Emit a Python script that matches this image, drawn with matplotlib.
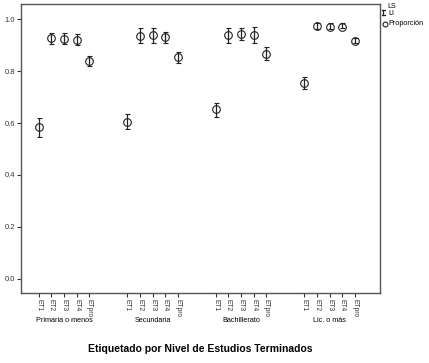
import matplotlib
matplotlib.use('Agg')
import matplotlib.pyplot as plt
from matplotlib.lines import Line2D

plt.rcParams['font.family'] = ['Liberation Sans', 'DejaVu Sans']

GROUPS = ["Primaria o menos", "Secundaria", "Bachillerato", "Lic. o más"]
ITEMS = ["ET1", "ET2", "ET3", "ET4", "ETpro"]

# proportion, upper limit (LS), lower limit (LI) per group, in ITEMS order
prop = [
    [0.583, 0.926, 0.925, 0.921, 0.838],
    [0.605, 0.936, 0.938, 0.931, 0.853],
    [0.653, 0.938, 0.942, 0.939, 0.867],
    [0.755, 0.973, 0.969, 0.969, 0.917],
]
ls = [
    [0.618, 0.947, 0.946, 0.942, 0.859],
    [0.635, 0.964, 0.965, 0.951, 0.874],
    [0.678, 0.967, 0.965, 0.969, 0.892],
    [0.778, 0.983, 0.985, 0.985, 0.928],
]
li = [
    [0.547, 0.904, 0.904, 0.899, 0.819],
    [0.576, 0.906, 0.906, 0.909, 0.830],
    [0.622, 0.906, 0.918, 0.906, 0.842],
    [0.731, 0.963, 0.963, 0.965, 0.906],
]

fig = plt.figure(figsize=(4.29, 3.63), dpi=100)
ax = fig.add_axes([0.049, 0.193, 0.837, 0.796])

xs, labels = [], []
for g in range(len(GROUPS)):
    x = [g * 7 + i for i in range(len(ITEMS))]
    ax.errorbar(x, prop[g],
                yerr=[[p - l for p, l in zip(prop[g], li[g])],
                      [u - p for p, u in zip(prop[g], ls[g])]],
                fmt='o', mfc='none', mec='#222222', ms=5.5, mew=0.8,
                ecolor='#222222', elinewidth=0.9, capsize=1.8, capthick=0.9)
    xs += x
    labels += ITEMS
    fig.text(0.049 + 0.837 * (g * 7 + 2 + 1.4) / 28.4, 0.118, GROUPS[g],
             ha='center', va='center', fontsize=5.2)

ax.set_xlim(-1.4, 27)
ax.set_ylim(-0.054, 1.058)
ax.set_xticks(xs)
ax.set_xticklabels(labels, rotation=270, fontsize=4.8)
ax.set_yticks([0.0, 0.2, 0.4, 0.6, 0.8, 1.0])
ax.set_yticklabels(['0.0', '0.2', '0.4', '0.6', '0.8', '1.0'], fontsize=5.5)
ax.tick_params(length=3, width=0.8, pad=1.2, colors='#333333')
for s in ax.spines.values():
    s.set_color('#555555')
    s.set_linewidth(1.0)

fig.text(0.466, 0.039, "Etiquetado por Nivel de Estudios Terminados",
         ha='center', va='center', fontsize=7.5, fontweight='bold')

# legend drawn by hand, outside the axes
fig.add_artist(Line2D([0.8935, 0.8935], [0.959, 0.972], color='#222222', lw=0.9))
fig.add_artist(Line2D([0.8905, 0.8965], [0.972, 0.972], color='#222222', lw=0.9))
fig.add_artist(Line2D([0.8905, 0.8965], [0.959, 0.959], color='#222222', lw=0.9))
fig.text(0.904, 0.981, "LS", fontsize=5.2, va='center')
fig.text(0.906, 0.962, "LI", fontsize=5.2, va='center')
fig.add_artist(Line2D([0.8965], [0.934], marker='o', mfc='none', mec='#222222', ms=3.5, mew=0.8))
fig.text(0.905, 0.934, "Proporción", fontsize=5.2, va='center')

fig.savefig('out.png', dpi=100)
